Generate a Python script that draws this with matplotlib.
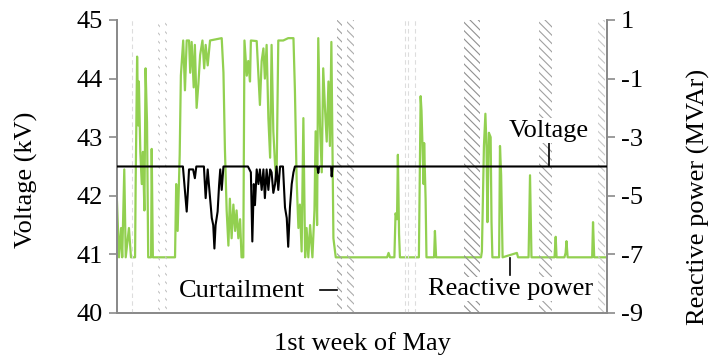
import matplotlib
matplotlib.use('Agg')
import matplotlib.pyplot as plt

plt.rcParams['font.family'] = ['Liberation Serif', 'DejaVu Serif']
plt.rcParams['font.size'] = 19
plt.rcParams['hatch.linewidth'] = 0.8
plt.rcParams['axes.unicode_minus'] = False

# reactive power (MVAr), hours since start of the week
q_hours = [0, 0.7, 1.4, 1.8, 2.5, 3.0, 4.1, 4.8, 6.2, 6.4, 6.9, 7.3, 7.5, 8.0, 8.5, 8.9, 9.4, 9.8,
           10.3, 10.7, 11.7, 11.9, 12.3, 19.9, 20.3, 20.8, 21.5, 21.9, 22.7, 23.3, 23.9, 24.7, 25.1,
           25.6, 26.3, 26.7, 27.3, 27.9, 28.5, 29.3, 29.9, 30.4, 31.1, 31.9, 35.9, 36.5, 37.0, 37.6,
           38.2, 38.7, 39.3, 39.9, 40.5, 41.0, 41.6, 42.2, 42.7, 43.3, 43.7, 44.5, 45.0, 45.6, 45.9,
           47.9, 48.5, 49.0, 49.6, 50.2, 50.7, 51.3, 51.9, 52.5, 53.0, 53.6, 54.2, 54.7, 55.3, 57.0,
           58.7, 60.5, 61.0, 61.6, 62.2, 62.7, 63.3, 63.9, 64.5, 65.0, 65.6, 66.2, 67.0, 67.7, 68.1,
           68.6, 69.0, 69.6, 70.2, 70.7, 71.3, 71.9, 72.5, 73.0, 73.5, 73.8, 74.2, 75.0,
           92.6, 93.1, 93.6, 95.1, 95.5, 96.0, 96.3, 96.7, 97.0, 103.5, 104.1, 104.4, 104.7, 105.1,
           105.3, 105.8, 106.1, 108.7, 109.0, 109.4, 124.8, 125.1, 125.8, 126.3, 126.7, 127.0, 127.5,
           128.1, 128.4, 128.7, 131.0, 131.3, 131.7, 132.2, 137.1, 137.5, 141.1, 141.6, 142.1,
           150.0, 150.4, 150.7, 153.4, 153.8, 154.1, 154.5, 162.9, 163.2, 163.6, 168]
q_mvar = [-5.2, -7.1, -6.1, -7.1, -4.1, -7.1, -6.1, -7.1, -7.1, -4.6, -0.25, -2.6, -1.1, -3.5, -4.6,
          -3.5, -5.5, -0.65, -2.5, -7.1, -7.1, -3.4, -7.1, -7.1, -4.6, -6.2, -3.6, -0.9, 0.3, -1.4,
          0.3, 0.3, -0.8, 0.25, -1.3, 0.15, -2.0, -1.2, -0.2, 0.3, -0.65, 0.15, -0.55, 0.3, 0.38,
          -0.8, -3.4, -5.5, -6.7, -5.1, -6.45, -5.3, -6.2, -5.5, -6.45, -5.8, -7.1, -7.1, 0.3, -0.9,
          -0.4, -1.1, 0.3, 0.28, -0.9, -1.9, -0.4, 0.03, -1.0, 0.15, -2.35, -3.7, 0.15, -2.8, -3.95,
          -4.5, 0.3, 0.3, 0.38, 0.38, -1.4, -4.5, -6.1, -5.3, -6.9, -2.35, -7.1, -6.1, -7.1, -6.0,
          -7.1, -5.5, -2.8, -6.0, 0.38, -2.6, -4.2, -0.65, -2.0, -3.15, -1.1, -3.3, 0.25, -2.6,
          -6.45, -7.1,
          -7.1, -6.95, -7.1, -7.1, -5.6, -5.8, -3.6, -6.3, -7.1, -7.1, -1.6, -2.1, -3.2, -4.6,
          -3.2, -5.1, -7.1, -7.1, -6.2, -7.1, -7.1, -6.9, -3.3, -2.2, -3.4, -5.9, -2.85,
          -3.0, -5.9, -7.1, -7.1, -3.3, -4.3, -7.1, -6.95, -7.1, -7.1, -4.3, -7.1,
          -7.1, -6.4, -7.1, -7.1, -6.95, -6.55, -7.1, -7.1, -5.9, -7.1, -7.1]

# voltage (kV)
v_hours = [0, 22.6, 23.9, 24.3, 24.7, 26.1, 26.7, 27.2, 29.8, 30.4, 31.1, 31.5, 32.5, 33.0, 33.4,
           33.8, 34.5, 35.0, 35.4, 35.9, 36.5, 44.9, 45.9, 46.4, 46.9, 47.3, 47.9, 48.5, 49.0,
           49.6, 50.2, 50.7, 51.3, 51.9, 52.5, 53.0, 53.6, 54.2, 54.7, 55.3, 55.9, 56.9, 57.6,
           58.2, 58.7, 59.3, 59.9, 60.5, 61.0, 68.7, 69.0, 69.3, 73.4, 73.6, 73.9, 168]
v_kv = [42.5, 42.5, 41.73, 42.07, 42.45, 42.45, 42.3, 42.5, 42.5, 41.96, 42.45, 42.2, 41.62, 41.5,
        41.1, 41.5, 41.73, 42.18, 42.45, 42.1, 42.5, 42.5, 42.4, 41.22, 42.2, 41.84, 42.45, 42.2,
        42.45, 42.1, 42.45, 41.96, 42.45, 42.1, 42.45, 42.4, 42.05, 42.2, 42.5, 42.1, 42.5, 42.5,
        41.8, 41.62, 41.13, 41.8, 42.2, 42.4, 42.5, 42.5, 42.39, 42.5, 42.5, 42.33, 42.5, 42.5]

# hatched periods (start, end in hours) and their shade
bands = [(14.1, 14.9), (16.4, 17.2), (75.4, 77.1), (78.9, 81.3),
         (119.1, 124.5), (144.8, 149.0), (165.0, 167.3)]
band_colors = ['#c4c4c4', '#c4c4c4', '#a0a0a0', '#acacac', '#909090', '#a0a0a0', '#c8c8c8']
faint_marks = [5.0, 98.8, 99.6, 102.3]

fig = plt.figure(figsize=(7.23, 3.62), dpi=100)
ax = fig.add_axes([0.1618, 0.1354, 0.6778, 0.8094])
ax2 = ax.twinx()

for (a, b), c in zip(bands, band_colors):
    ax.axvspan(a, b, facecolor='none', edgecolor=c, hatch='\\\\\\\\', linewidth=0, zorder=0)
for m in faint_marks:
    ax.axvline(m, color='#dddddd', lw=0.8, ls=(0, (4, 3)), zorder=0)

ax2.plot(q_hours, q_mvar, color='#92D050', lw=1.6, zorder=2)
ax.plot(v_hours, v_kv, color='black', lw=1.5, zorder=3)

ax.set_zorder(ax2.get_zorder() + 1)
ax.patch.set_visible(False)

ax.set_xlim(0, 168)
ax.set_ylim(40, 45)
ax2.set_ylim(-9, 1)
ax.set_yticks(range(40, 46))
ax2.set_yticks(range(-9, 2, 2))
ax.set_xticks([])

grey = '#8a8a8a'
for a in (ax, ax2):
    a.spines['top'].set_visible(False)
    for s in ('left', 'right', 'bottom'):
        a.spines[s].set_color(grey)
        a.spines[s].set_linewidth(1.3)
    a.tick_params(axis='y', direction='out', length=6, width=1.2, color=grey, pad=4)

ax.set_ylabel('Voltage (kV)')
ax.yaxis.set_label_coords(-0.161, 0.454)
ax2.set_ylabel('Reactive power (MVAr)')
ax2.yaxis.set_label_coords(1.163, 0.396)
ax.set_xlabel('1st week of May', labelpad=14)

box = dict(facecolor='white', edgecolor='none', pad=1)
ax.text(148.1, 43.11, 'Voltage', ha='center', va='center', bbox=box, zorder=5)
ax.plot([148.1, 148.1], [42.5, 42.9], color='black', lw=1.2, zorder=4)
ax.text(134.8, 40.41, 'Reactive power', ha='center', va='center', bbox=box, zorder=5)
ax.plot([134.8, 134.8], [40.65, 40.94], color='black', lw=1.2, zorder=4)
ax.text(42.8, 40.38, 'Curtailment', ha='center', va='center', bbox=box, zorder=5)
ax.plot([69.6, 75.4], [40.39, 40.39], color='black', lw=1.2, zorder=4)

fig.savefig('out.png', dpi=100)
